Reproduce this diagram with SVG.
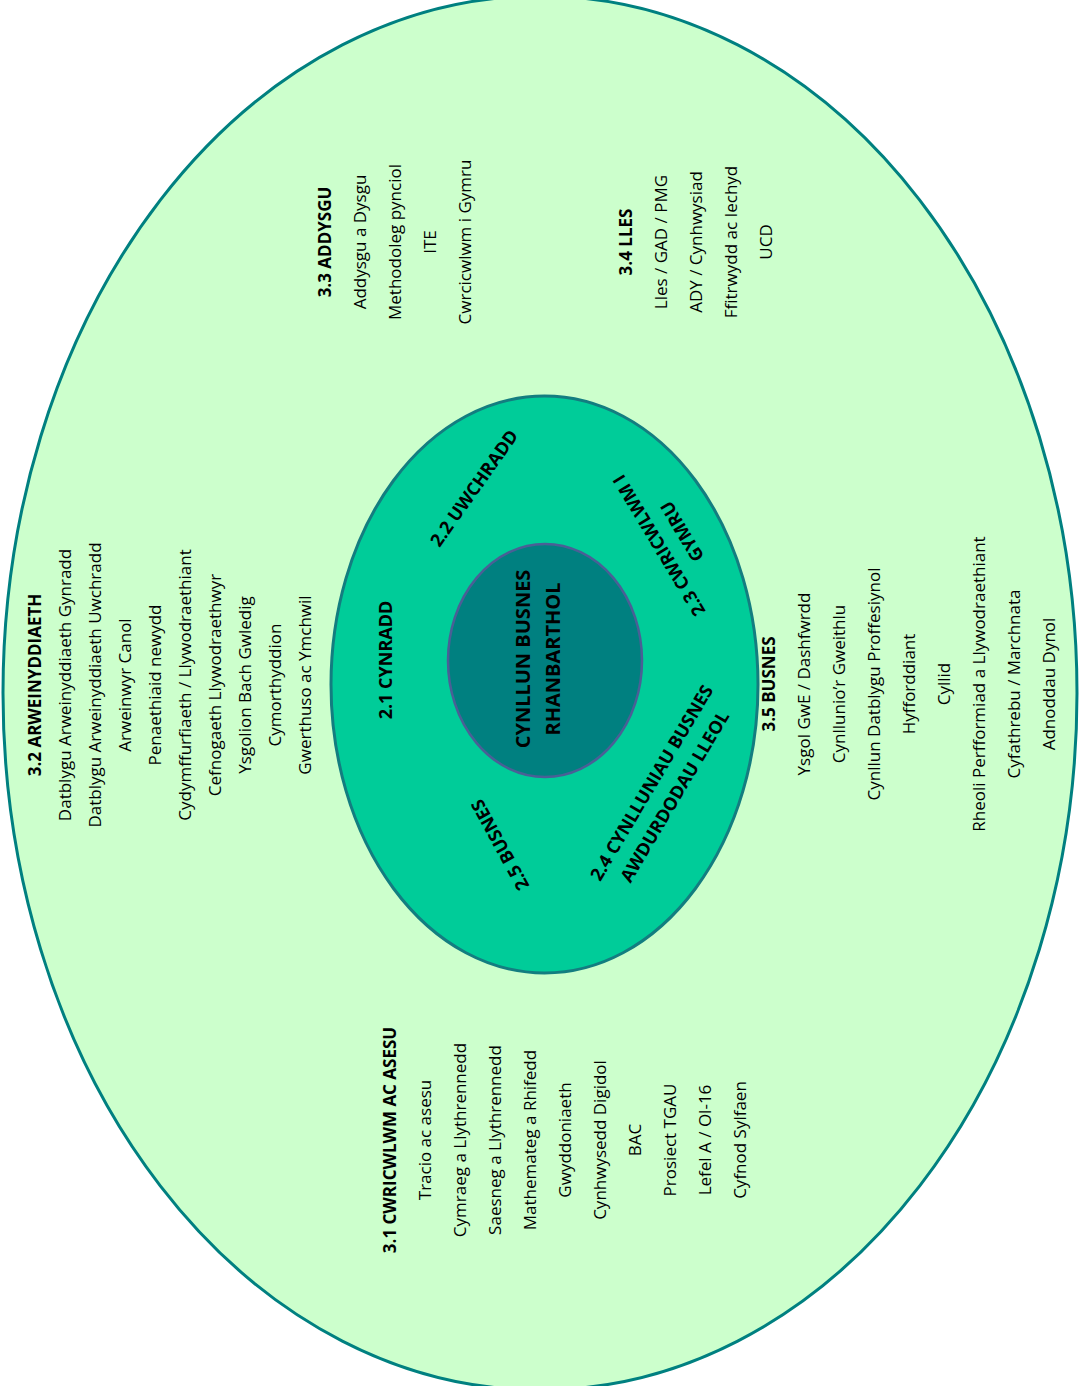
<svg xmlns="http://www.w3.org/2000/svg" width="1079" height="1386" viewBox="0 0 1079 1386">
<style>
text{font-family:"Open Sans","Noto Sans","DejaVu Sans",sans-serif;fill:#000;text-anchor:middle}
.it{font-size:17px}
.hd{font-size:17px;font-weight:bold}
.rg{font-size:18px;font-weight:bold}
.ct{font-size:20px;font-weight:bold}
</style>
<rect width="1079" height="1386" fill="#ffffff"/>
<g id="outer">
<ellipse cx="540" cy="693" rx="537" ry="697" fill="#CCFFCC" stroke="#008080" stroke-width="3"/>
</g>
<g id="middle">
<ellipse cx="544.5" cy="684.5" rx="213.5" ry="288.5" fill="#00CC99" stroke="#137D80" stroke-width="3"/>
</g>
<g id="inner">
<ellipse cx="545" cy="660.5" rx="97" ry="116.5" fill="#008080" stroke="#4A5F96" stroke-width="2.5"/>
<g transform="translate(530,659) rotate(-90)">
<text class="ct" x="0" y="0">CYNLLUN BUSNES</text>
<text class="ct" x="0" y="30">RHANBARTHOL</text>
</g>
</g>
<g id="ring-labels">
<g id="n21" transform="translate(392,660) rotate(-90)"><text class="rg" x="0" y="0">2.1 CYNRADD</text></g>
<g id="n22" transform="translate(474,488) rotate(-54.7)"><text class="rg" x="0" y="6.5">2.2 UWCHRADD</text></g>
<g id="n23" transform="translate(670.5,538.5) rotate(-121)"><text class="rg" x="0" y="-7">2.3 CWRICWLWM I</text><text class="rg" x="0" y="20">GYMRU</text></g>
<g id="n24" transform="translate(663,789.5) rotate(-59.4)"><text class="rg" x="0" y="-7">2.4 CYNLLUNIAU BUSNES</text><text class="rg" x="0" y="20">AWDURDODAU LLEOL</text></g>
<g id="n25" transform="translate(500,845) rotate(-118.7)"><text class="rg" x="0" y="6.5">2.5 BUSNES</text></g>
</g>
<g id="n31" transform="translate(396,1140) rotate(-90)">
<text class="hd" y="0">3.1 CWRICWLWM AC ASESU</text>
<text class="it" y="35">Tracio ac asesu</text>
<text class="it" y="70">Cymraeg a Llythrennedd</text>
<text class="it" y="105">Saesneg a Llythrennedd</text>
<text class="it" y="140">Mathemateg a Rhifedd</text>
<text class="it" y="175">Gwyddoniaeth</text>
<text class="it" y="210">Cynhwysedd Digidol</text>
<text class="it" y="245">BAC</text>
<text class="it" y="280">Prosiect TGAU</text>
<text class="it" y="315">Lefel A / Ol-16</text>
<text class="it" y="350">Cyfnod Sylfaen</text>
</g>
<g id="n32" transform="translate(41,685) rotate(-90)">
<text class="hd" y="0">3.2 ARWEINYDDIAETH</text>
<text class="it" y="30">Datblygu Arweinyddiaeth Gynradd</text>
<text class="it" y="60">Datblygu Arweinyddiaeth Uwchradd</text>
<text class="it" y="90">Arweinwyr Canol</text>
<text class="it" y="120">Penaethiaid newydd</text>
<text class="it" y="150">Cydymffurfiaeth / Llywodraethiant</text>
<text class="it" y="180">Cefnogaeth Llywodraethwyr</text>
<text class="it" y="210">Ysgolion Bach Gwledig</text>
<text class="it" y="240">Cymorthyddion</text>
<text class="it" y="270">Gwerthuso ac Ymchwil</text>
</g>
<g id="n33" transform="translate(331,242) rotate(-90)">
<text class="hd" y="0">3.3 ADDYSGU</text>
<text class="it" y="35">Addysgu a Dysgu</text>
<text class="it" y="70">Methodoleg pynciol</text>
<text class="it" y="105">ITE</text>
<text class="it" y="140">Cwrcicwlwm i Gymru</text>
</g>
<g id="n34" transform="translate(632,242) rotate(-90)">
<text class="hd" y="0">3.4 LLES</text>
<text class="it" y="35">Lles / GAD / PMG</text>
<text class="it" y="70">ADY / Cynhwysiad</text>
<text class="it" y="105">Ffitrwydd ac Iechyd</text>
<text class="it" y="140">UCD</text>
</g>
<g id="n35" transform="translate(775,684) rotate(-90)">
<text class="hd" y="0">3.5 BUSNES</text>
<text class="it" y="35">Ysgol GwE / Dashfwrdd</text>
<text class="it" y="70">Cynllunio’r Gweithlu</text>
<text class="it" y="105">Cynllun Datblygu Proffesiynol</text>
<text class="it" y="140">Hyfforddiant</text>
<text class="it" y="175">Cyllid</text>
<text class="it" y="210">Rheoli Perfformiad a Llywodraethiant</text>
<text class="it" y="245">Cyfathrebu / Marchnata</text>
<text class="it" y="280">Adnoddau Dynol</text>
</g>
<g id="connectors"></g>
</svg>
